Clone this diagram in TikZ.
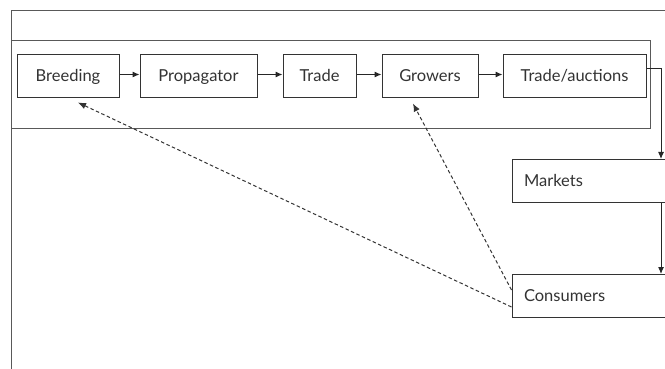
\documentclass[tikz,border=0pt]{standalone}
\usepackage{fontspec}
\setmainfont{Lato}
\usetikzlibrary{arrows.meta}
\begin{document}
\begin{tikzpicture}[x=1pt,y=-1pt,
  frame/.style={draw=black!65, line width=1pt},
  box/.style={draw=black!80, line width=1pt, minimum height=43pt, inner sep=0pt,
    text height=14.5pt, text depth=3.5pt,
    font=\fontsize{16.5}{19}\selectfont, text=black!80},
  sidebox/.style={box, minimum width=158pt, text width=134pt, align=left},
  flow/.style={draw=black!85, line width=1pt, -{Latex[length=7pt,width=6pt]}},
  back/.style={draw=black!80, line width=1pt, dash pattern=on 3.5pt off 2.5pt, -{Latex[length=8pt,width=6.5pt]}}]
\useasboundingbox (0,0) rectangle (665,369);
% outer frame
\draw[frame] (11,369) -- (11,11) -- (665,11);
% inner band
\draw[frame] (11,41) rectangle (650,129);
% chain
\node[box, minimum width=102pt] (breed) at (68,76.5) {Breeding};
\node[box, minimum width=117pt] (prop) at (198.5,76.5) {Propagator};
\node[box, minimum width=73pt] (trade) at (319.5,76.5) {Trade};
\node[box, minimum width=96pt] (grow) at (430,76.5) {Growers};
\node[box, minimum width=143pt] (auct) at (574.5,76.5) {Trade/auctions};
\node[sidebox] (mark) at (591,181) {Markets};
\node[sidebox] (cons) at (591,296) {Consumers};
% flow arrows
\draw[flow] ([yshift=2pt]breed.east) -- ([yshift=2pt]prop.west);
\draw[flow] ([yshift=2pt]prop.east) -- ([yshift=2pt]trade.west);
\draw[flow] ([yshift=2pt]trade.east) -- ([yshift=2pt]grow.west);
\draw[flow] ([yshift=2pt]grow.east) -- ([yshift=2pt]auct.west);
\coordinate (turn) at (661,69);
\coordinate (mtop) at (661,159);
\coordinate (mbot) at (661,203);
\coordinate (ctop) at (661,274);
\draw[flow] ([yshift=7.5pt]auct.east) -- (turn) -- (mtop);
\draw[flow] (mbot) -- (ctop);
% feedback
\draw[back] ([yshift=-11pt]cons.west) -- ([xshift=10pt,yshift=-4pt]breed.south);
\draw[back] ([yshift=6pt]cons.west) -- ([xshift=-17pt,yshift=-5pt]grow.south);
\end{tikzpicture}
\end{document}
